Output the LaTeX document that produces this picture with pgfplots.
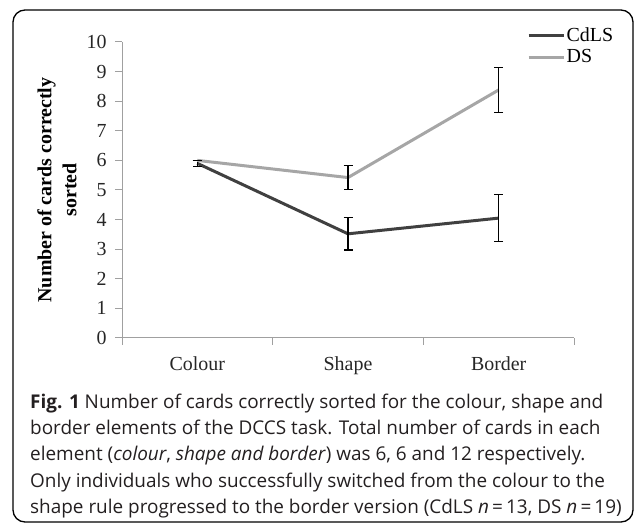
\documentclass[border=0pt]{standalone}
\usepackage{fontspec}
\setmainfont{Liberation Serif}
\newfontfamily\capfont{Open Sans}
\usepackage{pgfplots}
\pgfplotsset{compat=1.18}
\definecolor{cdls}{HTML}{404040}
\definecolor{ds}{HTML}{A6A6A6}
\definecolor{axisgray}{HTML}{A0A0A0}
\definecolor{captext}{HTML}{231F20}

\pgfplotstableread{
x    y     e
0.5  5.90  0.10
1.5  3.52  0.55
2.5  4.05  0.79
}\cdlsdata
\pgfplotstableread{
x    y     e
0.5  6.00  0.00
1.5  5.42  0.40
2.5  8.38  0.76
}\dsdata

\begin{document}
\begin{tikzpicture}
\useasboundingbox (0,0) rectangle (634bp,524bp);
\draw[line width=1.3bp, rounded corners=12bp] (13bp,2bp) rectangle (633bp,514bp);
\begin{axis}[
    at={(122bp,186bp)}, anchor=south west,
    scale only axis, width=452bp, height=296bp,
    xmin=0, xmax=3, ymin=0, ymax=10,
    axis x line=bottom, axis y line=left,
    axis line style={axisgray, line width=1bp, -},
    xtick={0,1,2,3}, x tick label as interval,
    xticklabels={Colour,Shape,Border},
    ytick={0,1,...,10},
    tick align=outside, major tick length=7bp,
    tick style={axisgray, line width=1bp},
    ticklabel style={font=\fontsize{20}{20}\selectfont, text=black!85},
    yticklabel style={xshift=-5bp},
    xticklabel style={yshift=-8bp},
    /pgf/number format/assume math mode=true,
    ylabel={Number of cards correctly\\sorted},
    every axis y label/.append style={at={(axis description cs:-0.144,0.5)}, anchor=center},
    ylabel style={align=center, font=\bfseries\fontsize{20}{25}\selectfont},
    legend style={at={(axis description cs:0.896,1.055)}, anchor=north west,
        draw=none, fill=none, font=\fontsize{20}{20}\selectfont, inner sep=0pt,
        row sep=4bp, nodes={inner sep=1.5bp}},
    legend cell align=left,
    legend image code/.code={\draw[#1, line width=3bp] (0bp,0bp) -- (35bp,0bp);},
]
  \addplot[cdls, line width=3bp, error bars/.cd, y dir=both, y explicit,
      error bar style={black, line width=1.3bp},
      error mark options={rotate=90, mark size=4.5bp, black, line width=1.3bp}]
      table[x=x, y=y, y error=e] {\cdlsdata};
  \addlegendentry{CdLS}
  \addplot[ds, line width=3bp, error bars/.cd, y dir=both, y explicit,
      error bar style={black, line width=1.3bp},
      error mark options={rotate=90, mark size=4.5bp, black, line width=1.3bp}]
      table[x=x, y=y, y error=e] {\dsdata};
  \addlegendentry{DS}
\end{axis}
\begin{scope}[every node/.style={anchor=base west, inner sep=0pt, text=captext,
    font=\capfont\fontsize{19}{26}\selectfont}]
  \node at (30bp,115bp) {\textbf{Fig. 1} Number of cards correctly sorted for the colour, shape and};
  \node at (30bp,89bp) {border elements of the DCCS task. Total number of cards in each};
  \node at (30bp,63bp) {element (\textit{colour}, \textit{shape and border}) was 6, 6 and 12 respectively.};
  \node at (30bp,37bp) {Only individuals who successfully switched from the colour to the};
  \node at (30bp,11bp) {shape rule progressed to the border version (CdLS \textit{n}\,=\,13, DS \textit{n}\,=\,19)};
\end{scope}
\end{tikzpicture}
\end{document}
